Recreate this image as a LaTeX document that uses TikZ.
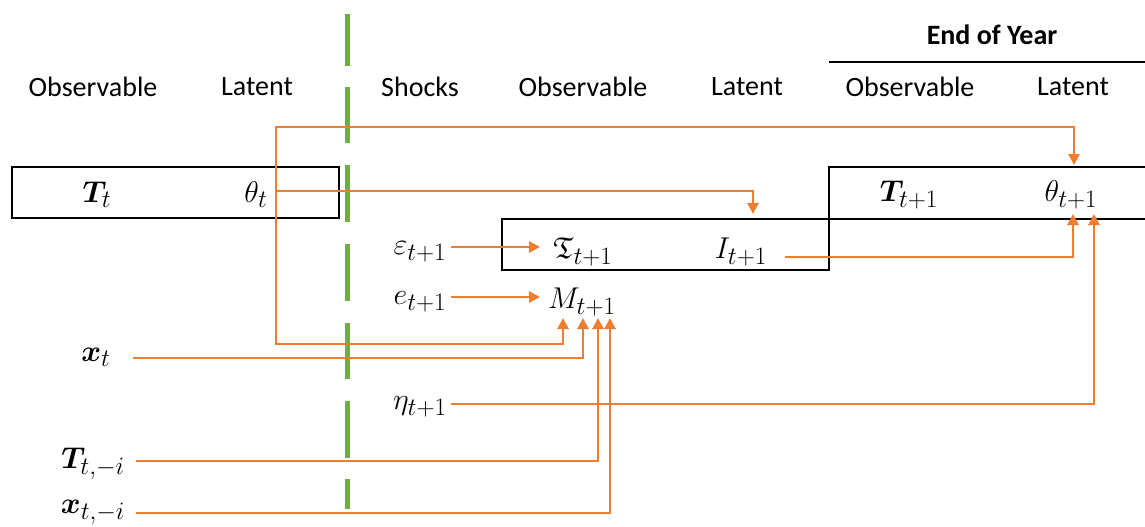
\documentclass[tikz,border=0pt]{standalone}
\usepackage{amsmath,amssymb,bm,graphicx}
\usepackage{fontspec}
\setmainfont{Carlito}
\usetikzlibrary{arrows.meta}
\DeclareMathSizes{20.74}{20.74}{17.28}{14.4}
\definecolor{orng}{HTML}{ED7D31}
\definecolor{grn}{HTML}{70AD47}
\newcommand\mlabel[1]{\scalebox{1.45}{\fontsize{20.74}{25}\selectfont$#1$}}
\begin{document}
\begin{tikzpicture}[x=1pt,y=-1pt,
  hdr/.style={font=\fontsize{28}{32}\selectfont, inner sep=0pt},
  mth/.style={inner sep=0pt},
  boxline/.style={draw=black, line width=1.6pt},
  oline/.style={draw=orng, line width=2.8pt},
  oarr/.style={oline, -{Triangle[length=11pt,width=11pt]}},
  divider/.style={draw=grn, line width=5pt}]
\useasboundingbox (0,0) rectangle (1145,527);
% header
\node[hdr,font=\fontsize{28}{32}\selectfont\bfseries] (eoy) at (992,35) {End of Year};
\draw[line width=1.6pt] (829,62) -- (1146,62);
\node[hdr] (h1) at (93,87) {Observable};
\node[hdr] (h2) at (257,87) {Latent};
\node[hdr] (h3) at (420,87) {Shocks};
\node[hdr] (h4) at (583,87) {Observable};
\node[hdr] (h5) at (747,87) {Latent};
\node[hdr] (h6) at (910,87) {Observable};
\node[hdr] (h7) at (1073,87) {Latent};
% divider
\foreach \a/\b in {14/66,87/143,165/222,244/301,323/379,401/458,479/509}
  \draw[divider] (347,\a) -- (347,\b);
% boxes
\draw[boxline] (12,167) rectangle (339,218);
\draw[boxline] (502,219) rectangle (829,270);
\draw[boxline] (1147,167) -- (829,167) -- (829,219) -- (1147,219);
% labels
\node[mth] (Tt) at (97,195) {\mlabel{\bm{T}_t}};
\node[mth] (tht) at (256,195) {\mlabel{\theta_t}};
\node[mth] (Tt1) at (909,195) {\mlabel{\bm{T}_{t+1}}};
\node[mth] (tht1) at (1071,195) {\mlabel{\theta_{t+1}}};
\node[mth] (eps) at (420,252) {\mlabel{\varepsilon_{t+1}}};
\node[mth] (fT) at (583,252) {\mlabel{\mathfrak{T}_{t+1}}};
\node[mth] (I) at (741,252) {\mlabel{I_{t+1}}};
\node[mth] (e) at (420,302) {\mlabel{e_{t+1}}};
\node[mth] (M) at (582,302) {\mlabel{M_{t+1}}};
\node[mth] (xt) at (96,357) {\mlabel{\bm{x}_t}};
\node[mth] (eta) at (420,407) {\mlabel{\eta_{t+1}}};
\node[mth] (Tti) at (93,464) {\mlabel{\bm{T}_{t,-i}}};
\node[mth] (xti) at (93,512) {\mlabel{\bm{x}_{t,-i}}};
% connector coordinates
\coordinate (J) at (276,191);
\coordinate (Itop) at (753,214);
\coordinate (th1top) at (1074,165);
\coordinate (th1botA) at (1073,214);
\coordinate (th1botB) at (1094,214);
\coordinate (Min1) at (563,318);
\coordinate (Min2) at (583,318);
\coordinate (Min3) at (598,318);
\coordinate (Min4) at (610,318);
\coordinate (xtS) at (133,358);
\coordinate (TtiS) at (136,461);
\coordinate (xtiS) at (136,513);
\coordinate (etaS) at (451,404);
\coordinate (IS) at (785,257);
\coordinate (epsS) at (451,247);
\coordinate (epsE) at (540,247);
\coordinate (eS) at (451,297);
\coordinate (eE) at (540,297);
% connectors
\draw[oarr] (J) -| (Itop);
\draw[oarr] (J) -- ++(0,-64) -| (th1top);
\draw[oarr] (J) -- ++(0,153) -| (Min1);
\draw[oarr] (xtS) -| (Min2);
\draw[oarr] (TtiS) -| (Min3);
\draw[oarr] (xtiS) -| (Min4);
\draw[oarr] (etaS) -| (th1botB);
\draw[oarr] (IS) -| (th1botA);
\draw[oarr] (epsS) -- (epsE);
\draw[oarr] (eS) -- (eE);
\end{tikzpicture}
\end{document}
